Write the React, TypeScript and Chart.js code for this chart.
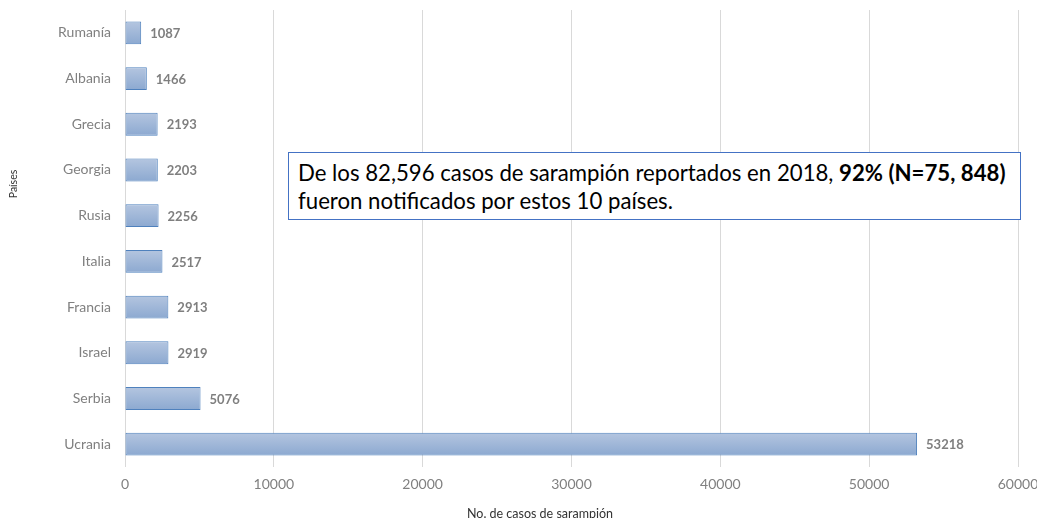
import React, { useEffect, useRef } from "react";
import { Chart, registerables } from "chart.js";

Chart.register(...registerables);

const countries = ["Rumanía", "Albania", "Grecia", "Georgia", "Rusia", "Italia", "Francia", "Israel", "Serbia", "Ucrania"];
const cases = [1087, 1466, 2193, 2203, 2256, 2517, 2913, 2919, 5076, 53218];
const xTicks = [0, 10000, 20000, 30000, 40000, 50000, 60000];
const xTitle = "No. de casos de sarampión";
const yTitle = "Países";

const FONT = "Lato, 'Open Sans', sans-serif";

export default function App() {
  const ref = useRef<HTMLCanvasElement | null>(null);

  useEffect(() => {
    const canvas = ref.current;
    if (!canvas) return;

    const labelPlugin = {
      id: "labels",
      afterDatasetsDraw(chart: any) {
        const ctx = chart.ctx;
        const meta = chart.getDatasetMeta(0);
        ctx.save();
        ctx.font = `bold 13px ${FONT}`;
        ctx.fillStyle = "#7f7f7f";
        ctx.textAlign = "left";
        ctx.textBaseline = "middle";
        meta.data.forEach((bar: any, i: number) => {
          ctx.fillText(String(cases[i]), bar.x + 9, bar.y + 1);
        });
        ctx.restore();
      },
      afterDraw(chart: any) {
        const ctx = chart.ctx;
        ctx.save();
        ctx.font = `10.5px ${FONT}`;
        ctx.fillStyle = "#333333";
        ctx.textAlign = "center";
        ctx.textBaseline = "middle";
        ctx.translate(14, 184);
        ctx.rotate(-Math.PI / 2);
        ctx.fillText(yTitle, 0, 0);
        ctx.restore();

        ctx.save();
        ctx.font = `12.5px ${FONT}`;
        ctx.fillStyle = "#333333";
        ctx.textAlign = "center";
        ctx.textBaseline = "middle";
        ctx.fillText(xTitle, 540, 514);
        ctx.restore();
      },
    };

    const chart = new Chart(canvas, {
      type: "bar",
      data: {
        labels: countries,
        datasets: [
          {
            data: cases,
            backgroundColor: (c: any) => {
              const ch = c.chart;
              const ys = ch.scales && ch.scales.y;
              if (!ys || c.dataIndex === undefined) return "#9fb6d8";
              const y = ys.getPixelForValue(c.dataIndex);
              if (!Number.isFinite(y)) return "#9fb6d8";
              const g = ch.ctx.createLinearGradient(0, y - 12, 0, y + 12);
              g.addColorStop(0, "#b5c6e0");
              g.addColorStop(1, "#8ba8d0");
              return g;
            },
            borderColor: "#4f81bd",
            borderWidth: 1,
            borderSkipped: false,
            barPercentage: 0.5,
            categoryPercentage: 1,
          },
        ],
      },
      options: {
        indexAxis: "y",
        responsive: false,
        animation: false,
        maintainAspectRatio: false,
        layout: { padding: { top: 10, right: 19, left: 0, bottom: 0 } },
        plugins: {
          legend: { display: false },
          tooltip: { enabled: false },
        },
        scales: {
          x: {
            min: 0,
            max: 60000,
            afterFit: (s: any) => {
              s.height = 51;
              s.paddingLeft = 0;
              s.paddingRight = 0;
            },
            afterBuildTicks: (s: any) => {
              s.ticks = xTicks.map((v) => ({ value: v }));
            },
            ticks: {
              color: "#808080",
              font: { family: FONT, size: 14 },
              padding: 9,
              maxRotation: 0,
              callback: (v: any) => String(v),
            },
            grid: { color: "#d9d9d9", drawTicks: false, lineWidth: 1 },
            border: { display: false },
          },
          y: {
            afterFit: (s: any) => {
              s.width = 125;
              s.paddingTop = 0;
              s.paddingBottom = 0;
            },
            ticks: {
              color: "#808080",
              font: { family: FONT, size: 14 },
              padding: 14,
            },
            grid: { display: false, drawTicks: false },
            border: { display: false },
          },
        },
      },
      plugins: [labelPlugin],
    } as any);

    chart.update();

    return () => chart.destroy();
  }, []);

  return (
    <div style={{ position: "fixed", left: 0, top: 0, width: 1037, height: 518, background: "#fff" }}>
      <canvas ref={ref} width={1037} height={518} style={{ display: "block" }} />
      <div
        style={{
          position: "absolute",
          left: 288,
          top: 152,
          width: 733,
          height: 68,
          boxSizing: "border-box",
          border: "1px solid #4472c4",
          background: "#fff",
          fontFamily: FONT,
          fontSize: 22.2,
          lineHeight: "28px",
          color: "#000",
          padding: "6px 0 0 9px",
          whiteSpace: "nowrap",
        }}
      >
        De los 82,596 casos de sarampión reportados en 2018, <b>92% (N=75, 848)</b>
        <br />
        fueron notificados por estos 10 países.
      </div>
    </div>
  );
}
